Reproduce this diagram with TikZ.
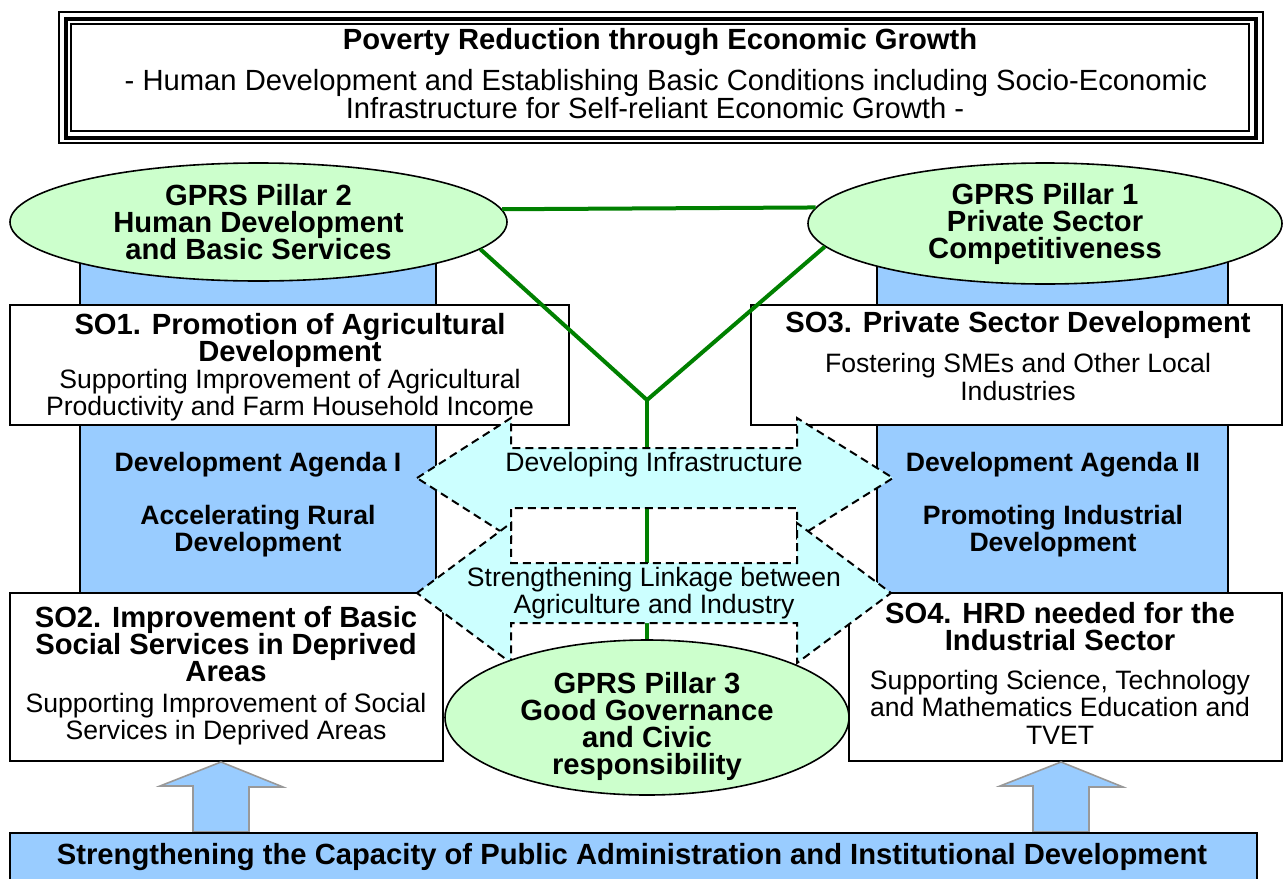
\documentclass[tikz,border=0pt]{standalone}
\usepackage{fontspec}
\setmainfont{Liberation Sans}
\usetikzlibrary{shapes,calc}
\definecolor{pillargreen}{HTML}{CCFFCC}
\definecolor{agendablue}{HTML}{99CCFF}
\definecolor{linkcyan}{HTML}{CCFFFF}
\definecolor{linegreen}{HTML}{008000}
\pgfdeclarelayer{front}
\pgfsetlayers{main,front}
\setlength{\lineskiplimit}{-100pt}

\begin{document}
\begin{tikzpicture}[x=0.5pt,y=-0.5pt,
  big/.style={font=\bfseries\fontsize{14.6}{13.5}\selectfont,align=center,inner sep=0pt},
  body/.style={font=\fontsize{13.3}{13.8}\selectfont,align=center,inner sep=0pt},
  agenda/.style={font=\bfseries\fontsize{13.3}{13.5}\selectfont,align=center,inner sep=0pt},
  pillar/.style={ellipse,draw,fill=pillargreen,line width=0.8pt,inner sep=0pt,
    font=\bfseries\fontsize{14.6}{13.4}\selectfont,align=center},
  sobox/.style={draw,fill=white,line width=1pt,inner sep=0pt},
  column/.style={draw,fill=agendablue,line width=1pt},
  link/.style={draw,fill=linkcyan,line width=1pt,dash pattern=on 4pt off 2.5pt},
  gline/.style={draw=linegreen,line width=2pt},
  upblock/.style={draw=gray!80,fill=agendablue,line width=0.8pt}]

\clip (0,0) rectangle (1283,878);

% title frame
\draw[line width=1.4pt] (59,12) rectangle (1263,143);
\draw[line width=1.6pt] (66,19) rectangle (1256,138);
\draw[line width=0.9pt] (71,24) rectangle (1249,131);
\node[big] (title) at (660,42) {Poverty Reduction through Economic Growth};
\node[body,font=\fontsize{14.6}{14}\selectfont] (subtitle) at (666,94)
  {- Human Development and Establishing Basic Conditions including Socio-Economic\\Infrastructure for Self-reliant Economic Growth -\hspace*{11pt}};

% agenda columns
\draw[column] (80,240) rectangle (436,595);
\draw[column] (877,240) rectangle (1228,595);

% pillars 1 and 2
\node[pillar,minimum width=248.5pt,minimum height=59pt] (p2) at (258.5,222)
  {GPRS Pillar 2\\Human Development\\and Basic Services};
\node[pillar,minimum width=237pt,minimum height=60.5pt] (p1) at (1045,223.5) {};
\node[big] (p1t) at (1045,224) {GPRS Pillar 1\\Private Sector\\Competitiveness};

% strategic objectives
\node[sobox,minimum width=279.5pt,minimum height=60pt] (so1) at (289.5,365) {};
\node[sobox,minimum width=265.5pt,minimum height=60pt] (so3) at (1016.5,365) {};
\node[sobox,minimum width=216.5pt,minimum height=84pt] (so2) at (226.5,677) {};
\node[sobox,minimum width=216.5pt,minimum height=84pt] (so4) at (1065.5,677) {};

\node[big] (so1t) at (290,340.5) {SO1. Promotion of Agricultural\\Development};
\node[body] (so1b) at (290,395) {Supporting Improvement of Agricultural\\Productivity and Farm Household Income};
\node[big] (so3t) at (1018,325) {SO3. Private Sector Development};
\node[body] (so3b) at (1018,377) {Fostering SMEs and Other Local\\Industries};
\node[agenda] (ag1) at (258,465) {Development Agenda I};
\node[agenda] (ag1b) at (258,531) {Accelerating Rural\\Development};
\node[agenda] (ag2) at (1053,465) {Development Agenda II};
\node[agenda] (ag2b) at (1053,531) {Promoting Industrial\\Development};
\node[big] (so2t) at (226,644) {SO2. Improvement of Basic\\Social Services in Deprived\\Areas};
\node[body] (so2b) at (226,719) {Supporting Improvement of Social\\Services in Deprived Areas};
\node[big] (so4t) at (1060,627) {SO4. HRD needed for the\\Industrial Sector};
\node[body] (so4b) at (1060,707) {Supporting Science, Technology\\and Mathematics Education and\\TVET};

% linkage arrows and pillar 3
\begin{pgfonlayer}{front}
\draw[link] (417,478) -- (511,418) -- (511,448) -- (797,448) -- (797,418) -- (893,478)
  -- (797,538) -- (797,508) -- (511,508) -- (511,538) -- cycle;
\node[body] (infra) at (654,465) {Developing Infrastructure};
\draw[link] (417,593) -- (511,523) -- (511,563) -- (797,563) -- (797,523) -- (891,593)
  -- (797,663) -- (797,623) -- (511,623) -- (511,663) -- cycle;
\node[body] (linkage) at (654,593) {Strengthening Linkage between\\Agriculture and Industry};
\node[pillar,minimum width=202pt,minimum height=77.5pt] (p3) at (647,717.5) {};
\node[big] (p3t) at (647,726) {GPRS Pillar 3\\Good Governance\\and Civic\\responsibility};
\node[sobox,fill=agendablue,minimum width=623.5pt,minimum height=33.5pt] (base) at (633.5,866.5) {};
\node[big] (baset) at (632,857) {Strengthening the Capacity of Public Administration and Institutional Development};
\end{pgfonlayer}

% green links between pillars
\coordinate (hub) at (647,400);
\draw[gline] (p2.3) -- (p1.176);
\draw[gline] (p2.-7.5) -- (hub) -- (p1.186);
\draw[gline] (hub) -- (p3);

% support arrows
\foreach \x/\n in {221/so2,1061/so4}
  \draw[upblock] (\x,0 |- \n.south) -- ++(62,25) -- ++(-34,0) -- (\x+28,0 |- base.north)
    -- (\x-28,0 |- base.north) -- ++(0,-46) -- ++(-33,0) -- cycle;
\end{tikzpicture}
\end{document}
